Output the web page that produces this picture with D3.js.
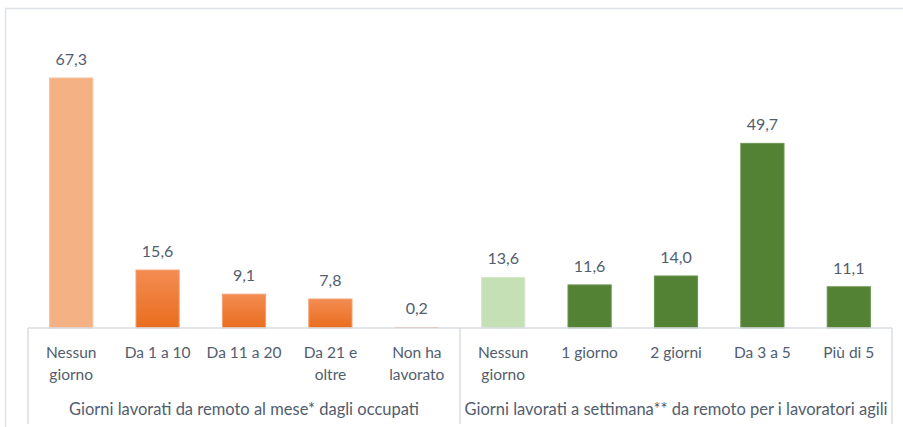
<!DOCTYPE html>
<html>
<head>
<meta charset="utf-8">
<script src="https://cdn.jsdelivr.net/npm/d3@7"></script>
<style>
  body { margin: 0; background: #fff; }
  svg text { font-family: Lato, "Open Sans", sans-serif; fill: #525d6e; }
</style>
</head>
<body>
<svg id="chart"></svg>
<script>
// categories (two lines each) and values
const categories = [
    ["Nessun", "giorno"], ["Da 1 a 10"], ["Da 11 a 20"], ["Da 21 e", "oltre"], ["Non ha", "lavorato"],
    ["Nessun", "giorno"], ["1 giorno"], ["2 giorni"], ["Da 3 a 5"], ["Più di 5"]
];
const values = [67.3, 15.6, 9.1, 7.8, 0.2, 13.6, 11.6, 14.0, 49.7, 11.1];
const groupLabels = [
    "Giorni lavorati da remoto al mese* dagli occupati",
    "Giorni lavorati a settimana** da remoto per i lavoratori agili"
];

var W = 903, H = 427;
var margin = { left: 28, right: 11, top: 78, axisY: 328 };

const svg = d3.select("#chart").attr("width", W).attr("height", H);

// gradient for the orange bars
var defs = svg.append("defs");
var grad = defs.append("linearGradient").attr("id", "orangeGrad")
    .attr("x1", 0).attr("y1", 0).attr("x2", 0).attr("y2", 1);
grad.append("stop").attr("offset", "0%").attr("stop-color", "#f38c52");
grad.append("stop").attr("offset", "100%").attr("stop-color", "#e96d1e");

// outer frame
svg.append("rect")
    .attr("x", 5.5).attr("y", 8.5)
    .attr("width", W + 10).attr("height", H + 10)
    .attr("fill", "none").attr("stroke", "#dfe3e8").attr("stroke-width", 1.5);

var idx = d3.range(categories.length);
var x = d3.scaleBand().domain(idx).range([margin.left, W - margin.right]).paddingInner(0.5).paddingOuter(0.25);
var xb = d3.scaleBand().domain(idx).range([margin.left, W - margin.right]);
var y = d3.scaleLinear().domain([0, 67.3]).range([margin.axisY, margin.top]);

function fillFor(i) {
    if (i === 0) return "#f4b183";
    if (i < 5) return "url(#orangeGrad)";
    if (i === 5) return "#c5e0b4";
    return "#548235";
}
function strokeFor(i) {
    if (i === 0) return "#f6c09b";
    if (i < 5) return "#f4a070";
    if (i === 5) return "#d3e8c6";
    return "#6b9450";
}

// bars
svg.selectAll("rect.bar")
    .data(values)
    .join("rect")
    .attr("class", "bar")
    .attr("x", (d, i) => x(i))
    .attr("width", x.bandwidth())
    .attr("y", (d) => y(d))
    .attr("height", (d) => y(0) - y(d))
    .attr("fill", (d, i) => fillFor(i))
    .attr("stroke", (d, i) => (y(0) - y(d) > 2 ? strokeFor(i) : "none"))
    .attr("stroke-width", 1);

// value labels
svg.selectAll("text.val")
    .data(values)
    .join("text")
    .attr("class", "val")
    .attr("x", (d, i) => x(i) + x.bandwidth() / 2)
    .attr("y", (d) => y(d) - 13)
    .attr("text-anchor", "middle")
    .style("font-size", "16px")
    .text((d) => d3.format(".1f")(d).replace(".", ","));

// axis line and group separators
var axisG = svg.append("g").attr("stroke", "#d9dde3").attr("stroke-width", 1.5);
axisG.append("line")
    .attr("x1", margin.left).attr("x2", W - margin.right)
    .attr("y1", margin.axisY).attr("y2", margin.axisY);
[0, 5, 10].forEach(function (k) {
    var xx = k < 10 ? xb(k) : xb(9) + xb.bandwidth();
    axisG.append("line")
        .attr("x1", xx).attr("x2", xx)
        .attr("y1", margin.axisY).attr("y2", 424);
});

// category labels
svg.selectAll("text.cat")
    .data(categories)
    .join("text")
    .attr("class", "cat")
    .attr("text-anchor", "middle")
    .style("font-size", "15.5px")
    .attr("transform", (d, i) => `translate(${xb(i) + xb.bandwidth() / 2},358)`)
    .selectAll("tspan")
    .data((d) => d)
    .join("tspan")
    .attr("x", 0)
    .attr("dy", (d, j) => (j === 0 ? 0 : 22))
    .text((d) => d);

// group labels
groupLabels.forEach(function (g, k) {
    var x0 = xb(k * 5), x1 = xb(k * 5 + 4) + xb.bandwidth();
    svg.append("text")
        .attr("x", (x0 + x1) / 2)
        .attr("y", 415)
        .attr("text-anchor", "middle")
        .style("font-size", "16.5px")
        .text(g);
});
</script>
</body>
</html>
